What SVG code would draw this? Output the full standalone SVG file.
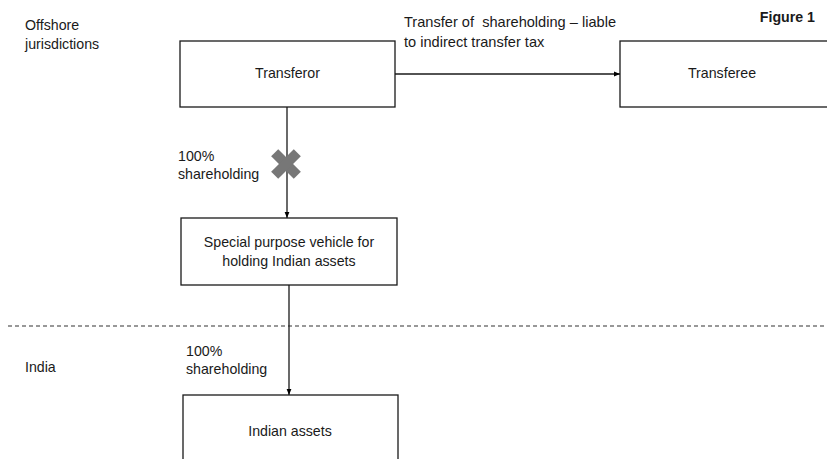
<svg xmlns="http://www.w3.org/2000/svg" width="827" height="459" viewBox="0 0 827 459">
<defs>
<marker id="arr" viewBox="0 0 10 10" refX="10" refY="5" markerWidth="6" markerHeight="6" orient="auto" markerUnits="userSpaceOnUse">
<path d="M0,1 L10,5 L0,9 z" fill="#000"/>
</marker>
</defs>
<style>
text{font-family:"Liberation Sans",Arial,sans-serif;font-size:14.2px;fill:#1a1a1a}
.box{fill:#fff;stroke:#1a1a1a;stroke-width:1.3}
.c{text-anchor:middle}
.ln{stroke:#1a1a1a;stroke-width:1.3;fill:none}
.top{font-size:14.6px}
</style>
<rect width="827" height="459" fill="#fff"/>
<text x="25" y="30">Offshore</text>
<text x="25" y="49">jurisdictions</text>
<text x="815" y="22" text-anchor="end" font-weight="bold" font-size="13.5">Figure 1</text>
<text x="25" y="372">India</text>
<line x1="8" y1="326" x2="827" y2="326" stroke="#333" stroke-width="1.2" stroke-dasharray="4,3"/>
<g id="connectors">
<line class="ln" x1="395" y1="74" x2="620" y2="74" marker-end="url(#arr)"/>
<line class="ln" x1="287" y1="107" x2="287" y2="218" marker-end="url(#arr)"/>
<line class="ln" x1="289" y1="285" x2="289" y2="395" marker-end="url(#arr)"/>
<text class="top" x="404" y="27" xml:space="preserve">Transfer of  shareholding – liable</text>
<text class="top" x="404" y="47">to indirect transfer tax</text>
<text x="178" y="161">100%</text>
<text x="178" y="179">shareholding</text>
<text x="186" y="356">100%</text>
<text x="186" y="374">shareholding</text>
<g id="xmark" transform="translate(286,164) rotate(45)">
<rect x="-16" y="-5" width="32" height="10" fill="#777"/>
<rect x="-5" y="-16" width="10" height="32" fill="#777"/>
</g>
</g>
<g id="transferor">
<rect class="box" x="180" y="41" width="215" height="66"/>
<text class="c" x="287.5" y="78">Transferor</text>
</g>
<g id="transferee">
<rect class="box" x="620" y="41" width="220" height="66"/>
<text class="c" x="722" y="78">Transferee</text>
</g>
<g id="spv">
<rect class="box" x="181" y="218" width="216" height="67"/>
<text class="c" x="289" y="247">Special purpose vehicle for</text>
<text class="c" x="289" y="266">holding Indian assets</text>
</g>
<g id="indian-assets">
<rect class="box" x="183" y="395" width="215" height="70"/>
<text class="c" x="290" y="436">Indian assets</text>
</g>
</svg>
